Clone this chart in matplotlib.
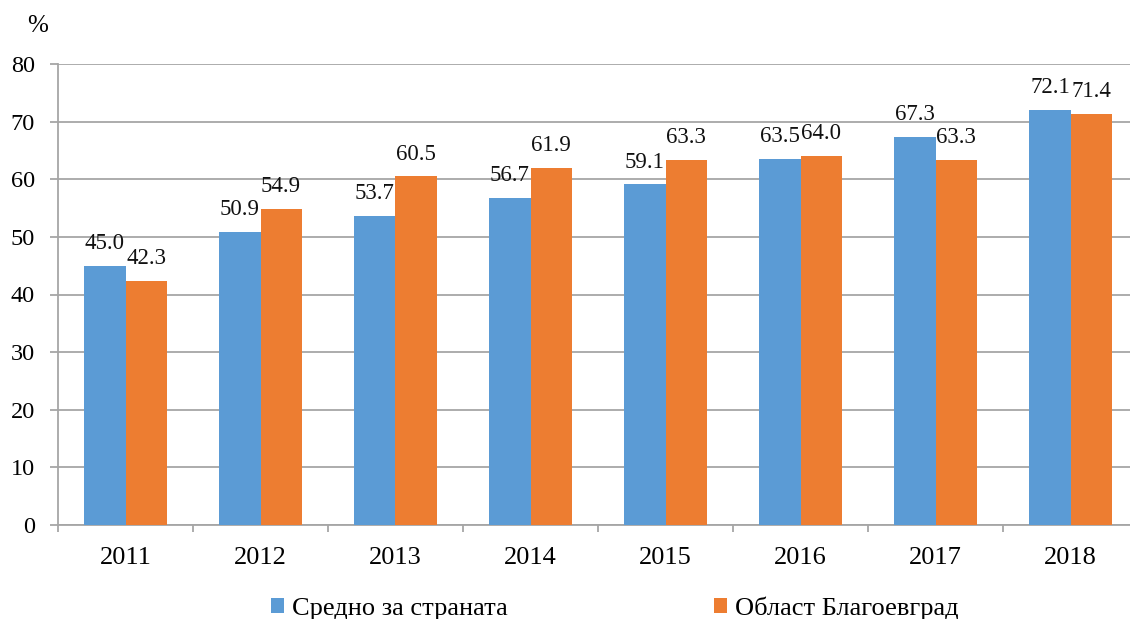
import matplotlib
matplotlib.use("Agg")
import matplotlib.pyplot as plt
import numpy as np

years = ["2011", "2012", "2013", "2014", "2015", "2016", "2017", "2018"]
country_avg = [45.0, 50.9, 53.7, 56.7, 59.1, 63.5, 67.3, 72.1]
blagoevgrad = [42.3, 54.9, 60.5, 61.9, 63.3, 64.0, 63.3, 71.4]
series_names = ["Средно за страната", "Област Благоевград"]
y_ticks = [0, 10, 20, 30, 40, 50, 60, 70, 80]

plt.rcParams['font.family'] = ['Liberation Serif', 'DejaVu Serif']

W, H = 1130, 619
fig = plt.figure(figsize=(W / 100, H / 100), dpi=100)
ax = fig.add_axes([58 / W, 1 - 525 / H, (1138 - 58) / W, (525 - 64) / H])

x = np.arange(len(years))
bw = 0.305
blue = "#5B9BD5"
orange = "#ED7D31"
b1 = ax.bar(x - bw / 2, country_avg, bw, color=blue, label=series_names[0], zorder=3)
b2 = ax.bar(x + bw / 2, blagoevgrad, bw, color=orange, label=series_names[1], zorder=3)

for bars, vals in ((b1, country_avg), (b2, blagoevgrad)):
    for r, v in zip(bars, vals):
        ax.annotate(f"{v:.1f}", (r.get_x() + r.get_width() / 2, v),
                    xytext=(0, 8.5), textcoords="offset points",
                    ha="center", va="bottom", fontsize=16.5, color="#111111")

ax.set_xlim(-0.5, len(years) - 0.5)
ax.set_ylim(0, 80)
ax.set_yticks(y_ticks)
ax.set_yticklabels([str(t) for t in y_ticks])
ax.yaxis.grid(True, color="#A6A6A6", linewidth=1.3, zorder=0)
ax.set_axisbelow(True)

ax.set_xticks(x)
ax.set_xticklabels(years)
ax.set_xticks(np.arange(len(years) + 1) - 0.5, minor=True)
ax.tick_params(axis="x", which="major", length=0, pad=16, labelsize=19)
ax.tick_params(axis="x", which="minor", length=5.2, color="#A6A6A6", width=1.3)
ax.tick_params(axis="y", length=5.8, color="#A6A6A6", width=1.3, pad=11, labelsize=17.5)

for s in ("top", "right"):
    ax.spines[s].set_visible(False)
for s in ("left", "bottom"):
    ax.spines[s].set_color("#A6A6A6")
    ax.spines[s].set_linewidth(1.3)

fig.text(38 / W, 1 - 26 / H, "%", fontsize=18, ha="center", va="center")

leg = fig.legend(handles=[b1, b2], labels=series_names, loc="center",
                 bbox_to_anchor=(615 / W, 1 - 608 / H), ncol=2, frameon=False,
                 fontsize=19, handlelength=0.5, handleheight=0.5,
                 handletextpad=0.3, columnspacing=7.8)

fig.savefig("out.png", dpi=100)
